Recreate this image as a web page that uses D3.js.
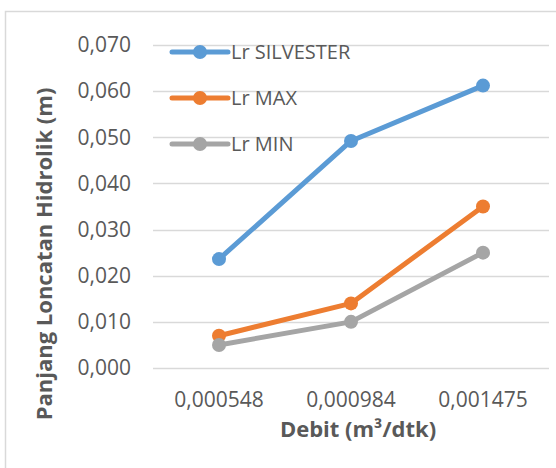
<!DOCTYPE html>
<html><head><meta charset="utf-8">
<script src="https://cdn.jsdelivr.net/npm/d3@7"></script>
<style>body{margin:0;background:#fff}svg{display:block}</style>
</head><body>
<script>
const categories = ["0,000548", "0,000984", "0,001475"];
const seriesNames = ["Lr SILVESTER", "Lr MAX", "Lr MIN"];
const silvester = [0.0236, 0.0492, 0.0612];
const lrMax = [0.007, 0.014, 0.035];
const lrMin = [0.005, 0.010, 0.025];
const yTicks = [0, 0.01, 0.02, 0.03, 0.04, 0.05, 0.06, 0.07];
const colors = ["#5B9BD5", "#ED7D31", "#A5A5A5"];
const seriesValues = [silvester, lrMax, lrMin];

const W = 556, H = 468;
const font = "'Open Sans', sans-serif";
const svg = d3.select("body").append("svg").attr("width", W).attr("height", H);

svg.append("rect").attr("x", 5.5).attr("y", 11.5).attr("width", 600).attr("height", 600)
  .attr("fill", "#fff").attr("stroke", "#D9D9D9").attr("stroke-width", 1.5);

const x = d3.scaleBand().domain(categories).range([153, 549]);
const y = d3.scaleLinear().domain([0, 0.07]).range([368, 45]);

// gridlines
svg.append("g").selectAll("line").data(yTicks).join("line")
  .attr("x1", 153).attr("x2", 549)
  .attr("y1", d => Math.round(y(d)) + 0.5).attr("y2", d => Math.round(y(d)) + 0.5)
  .attr("stroke", "#D9D9D9").attr("stroke-width", 1.5);

// y axis labels
const fmt = d => d3.format(".3f")(d).replace(".", ",");
const yAxis = d3.axisLeft(y).tickValues(yTicks).tickFormat(fmt).tickSize(0).tickPadding(0);
const gy = svg.append("g").attr("transform", "translate(131,0)").call(yAxis);
gy.select(".domain").remove();
gy.selectAll("text").attr("fill", "#595959").style("font-family", font).style("font-size", "21px");

// x axis labels
const xAxis = d3.axisBottom(x).tickSize(0).tickPadding(0);
const gx = svg.append("g").attr("transform", "translate(0,392)").call(xAxis);
gx.select(".domain").remove();
gx.selectAll("text").attr("fill", "#595959").style("font-family", font).style("font-size", "21px");

// lines and markers
const line = d3.line().x((d, i) => x(categories[i]) + x.bandwidth() / 2).y(d => y(d));
seriesValues.forEach((vals, si) => {
  const g = svg.append("g");
  g.append("path").datum(vals).attr("d", line).attr("fill", "none")
    .attr("stroke", colors[si]).attr("stroke-width", 5).attr("stroke-linejoin", "round").attr("stroke-linecap", "round");
  g.selectAll("circle").data(vals).join("circle")
    .attr("cx", (d, i) => x(categories[i]) + x.bandwidth() / 2).attr("cy", d => y(d))
    .attr("r", 7).attr("fill", colors[si]);
});

// legend
const legY = [52, 98, 144];
seriesNames.forEach((name, i) => {
  const g = svg.append("g");
  g.append("line").attr("x1", 172).attr("x2", 228).attr("y1", legY[i]).attr("y2", legY[i])
    .attr("stroke", colors[i]).attr("stroke-width", 5).attr("stroke-linecap", "round");
  g.append("circle").attr("cx", 200).attr("cy", legY[i]).attr("r", 7).attr("fill", colors[i]);
  g.append("text").attr("x", 231).attr("y", legY[i]).attr("dy", "0.35em")
    .attr("fill", "#595959").style("font-family", font).style("font-size", "20px").text(name);
});

// axis titles
svg.append("text").attr("x", 358).attr("y", 437).attr("text-anchor", "middle")
  .attr("fill", "#595959").style("font-family", font).style("font-size", "22px").style("font-weight", "bold")
  .text("Debit (m³/dtk)");
svg.append("text").attr("transform", "translate(52,254) rotate(-90)").attr("text-anchor", "middle")
  .attr("fill", "#595959").style("font-family", font).style("font-size", "22px").style("font-weight", "bold")
  .text("Panjang Loncatan Hidrolik (m)");
</script>
</body></html>
